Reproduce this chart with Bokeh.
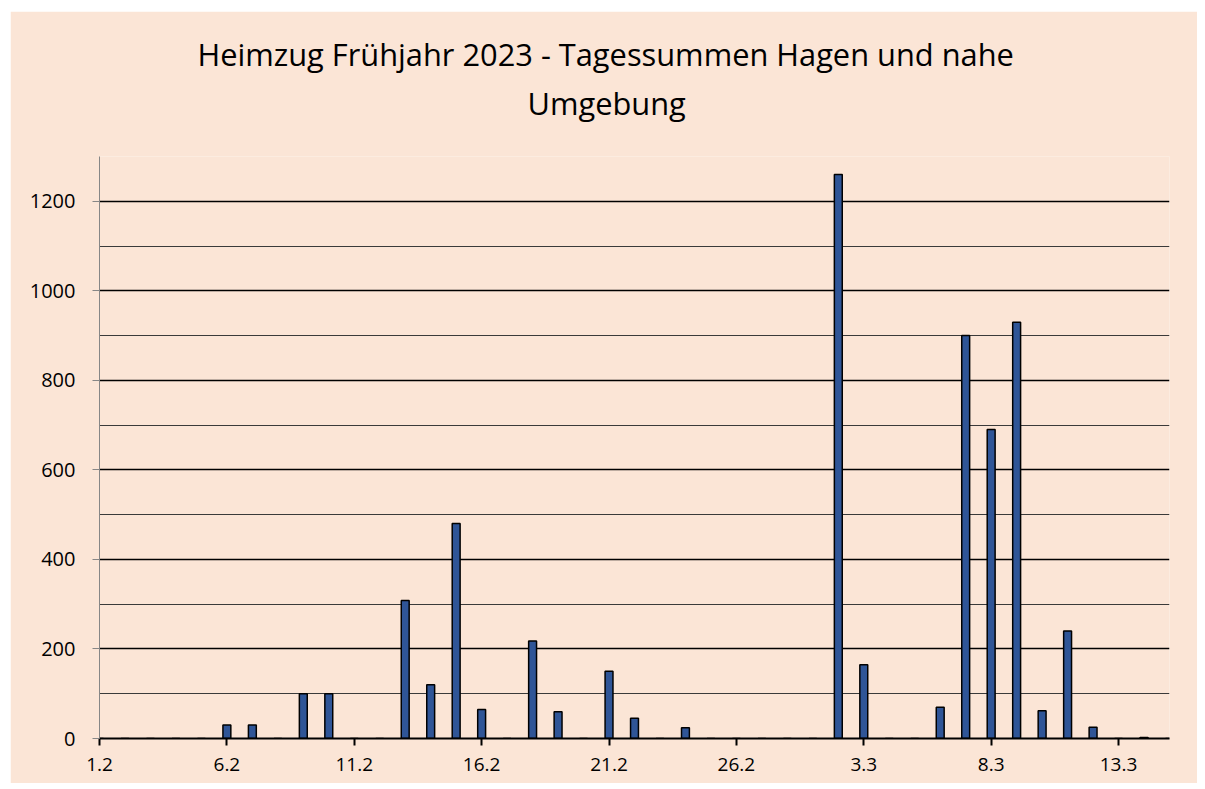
from bokeh.plotting import figure
from bokeh.models import ColumnDataSource, Range1d, FixedTicker, Title, Spacer
from bokeh.layouts import column, row
from bokeh.embed import file_html
from bokeh.resources import INLINE

title_line1 = "Heimzug Frühjahr 2023 - Tagessummen Hagen und nahe"
title_line2 = "Umgebung"

dates = ["1.2", "2.2", "3.2", "4.2", "5.2", "6.2", "7.2", "8.2", "9.2", "10.2",
         "11.2", "12.2", "13.2", "14.2", "15.2", "16.2", "17.2", "18.2", "19.2", "20.2",
         "21.2", "22.2", "23.2", "24.2", "25.2", "26.2", "27.2", "28.2",
         "1.3", "2.3", "3.3", "4.3", "5.3", "6.3", "7.3", "8.3", "9.3", "10.3",
         "11.3", "12.3", "13.3", "14.3", "15.3"]

counts = [0, 0, 0, 0, 0, 30, 30, 0, 100, 100,
          0, 0, 308, 120, 480, 65, 0, 218, 60, 0,
          150, 45, 0, 24, 0, 0, 0, 0,
          0, 1260, 165, 0, 0, 70, 900, 690, 930, 62,
          240, 25, 0, 2, 0]

label_every = 5
y_major = [0, 200, 400, 600, 800, 1000, 1200]
y_minor = [100, 300, 500, 700, 900, 1100, 1300]
y_max = 1300

BG = "#FBE5D6"
BAR = "#2F5597"
FONT = "Open Sans"

idx = list(range(len(dates)))
src = ColumnDataSource(dict(x=idx, top=counts, date=dates))

p = figure(width=1187, height=772, output_backend="svg", toolbar_location=None, title=None,
           x_range=Range1d(0, len(dates) - 1), y_range=Range1d(0, y_max),
           min_border_left=89, min_border_right=28, min_border_top=145, min_border_bottom=45)

p.background_fill_color = BG
p.border_fill_color = BG
p.outline_line_color = None

# gap title (drawn in background colour) between frame and the two title lines
t0 = Title(text=".", align="left", text_font=FONT, text_font_size="1px",
           text_color=BG, standoff=28)
t2 = Title(text=title_line2, align="left", text_font=FONT, text_font_size="30.8px",
           text_font_style="normal", text_color="#000000", standoff=4, offset=428)
t1 = Title(text=title_line1, align="left", text_font=FONT, text_font_size="30.8px",
           text_font_style="normal", text_color="#000000", standoff=5, offset=98)
p.add_layout(t0, "above")
p.add_layout(t2, "above")
p.add_layout(t1, "above")

p.vbar(x="x", top="top", bottom=0, width=0.31, source=src,
       fill_color=BAR, line_color="#000000", line_width=1.5)

# x axis
xt = [i for i in idx if i % label_every == 0]
p.xaxis.ticker = FixedTicker(ticks=xt)
p.xaxis.major_label_overrides = {i: dates[i] for i in xt}
p.xaxis.axis_line_color = "#000000"
p.xaxis.axis_line_width = 2
p.xaxis.major_tick_line_color = "#000000"
p.xaxis.major_tick_line_width = 2
p.xaxis.major_tick_out = 7
p.xaxis.major_tick_in = 0
p.xaxis.minor_tick_line_color = None
p.xaxis.major_label_standoff = 12
p.xaxis.major_label_text_font = FONT
p.xaxis.major_label_text_font_size = "19px"
p.xaxis.major_label_text_color = "#000000"

# y axis
p.yaxis.ticker = FixedTicker(ticks=y_major, minor_ticks=y_minor)
p.yaxis.axis_line_color = "#868686"
p.yaxis.axis_line_width = 1
p.yaxis.major_tick_line_color = "#868686"
p.yaxis.major_tick_out = 7
p.yaxis.major_tick_in = 0
p.yaxis.minor_tick_line_color = None
p.yaxis.major_label_standoff = 17
p.yaxis.major_label_text_font = FONT
p.yaxis.major_label_text_font_size = "20px"
p.yaxis.major_label_text_color = "#000000"

p.xgrid.grid_line_color = None
p.ygrid.grid_line_color = "#000000"
p.ygrid.grid_line_width = 1.6
p.ygrid.minor_grid_line_color = "#3a3a3a"
p.ygrid.minor_grid_line_width = 1.1

layout = column(Spacer(height=11), row(Spacer(width=10), p))

open("out.html", "w").write(file_html(layout, INLINE))
